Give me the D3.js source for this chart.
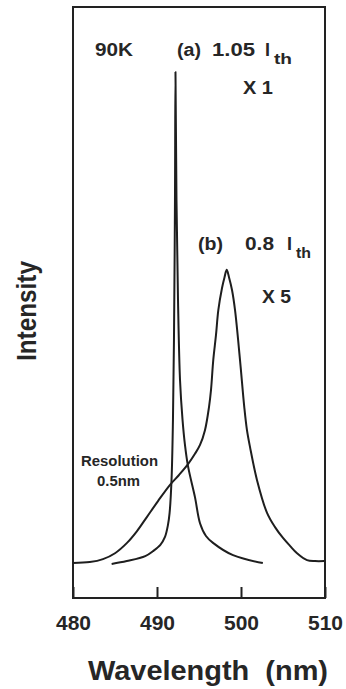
<!DOCTYPE html>
<html>
<head>
<meta charset="utf-8">
<script src="https://cdn.jsdelivr.net/npm/d3@7"></script>
<style>
  html, body { margin: 0; padding: 0; background: #fff; }
  svg { display: block; }
  text { font-family: "Liberation Sans", Arial, Helvetica, sans-serif; fill: #262626; }
</style>
</head>
<body>
<svg id="chart" width="346" height="689"></svg>
<script>
// ---- data (wavelength in nm, intensity in arbitrary units) ----
const wavelengthA = [484.6, 486.4, 488.6, 489.5, 490.4, 490.95, 491.3, 491.5, 491.73, 491.9, 492.02, 492.14, 492.2, 492.32, 492.5, 492.74, 493.04, 493.33, 493.69, 494.52, 495.12, 495.83, 496.67, 499.05, 502.6];
const intensityA  = [0.0, 0.6, 1.6, 2.6, 3.9, 5.5, 7.9, 10.4, 17.1, 29.3, 45.5, 74, 100, 74, 53.7, 37.4, 29.3, 24.2, 19.9, 13.6, 8.3, 5.7, 4.3, 1.8, 0.2];

const wavelengthB = [480, 482.0, 483.57, 485.0, 486.43, 487.62, 488.81, 490.12, 491.55, 492.62, 493.69, 494.52, 495.12, 495.71, 496.19, 496.43, 496.7, 497.02, 497.3, 497.74, 498.04, 498.3, 498.57, 498.93, 499.29, 499.88, 500.39, 500.71, 501.07, 501.9, 503.1, 504.05, 505.0, 505.83, 506.67, 507.86, 508.81, 509.9];
const intensityB  = [0.2, 0.4, 1.0, 2.2, 4.3, 6.7, 9.6, 12.8, 16.1, 18.1, 20.3, 22.4, 24.2, 27.2, 31.9, 35.4, 41.5, 46.5, 51.6, 56.1, 58.3, 59.8, 58.3, 55.7, 51.6, 41.5, 31.9, 27.2, 23.8, 17.1, 10.4, 7.5, 5.3, 3.7, 2.2, 0.8, 0.6, 0.6];

const xTicks = [480, 490, 500, 510];
const xDomain = [480, 510];
const yDomain = [-6.9, 113.2];

// ---- layout ----
const svg = d3.select("#chart");
const mLeft = 73, mRight = 325, mTop = 7, mBottom = 598;

const x = d3.scaleLinear().domain(xDomain).range([mLeft, mRight]);
const y = d3.scaleLinear().domain(yDomain).range([mBottom, mTop]);

// frame
svg.append("rect")
  .attr("x", mLeft).attr("y", mTop)
  .attr("width", mRight - mLeft).attr("height", mBottom - mTop)
  .attr("fill", "none").attr("stroke", "#222").attr("stroke-width", 2);

// x axis with inward ticks
const xAxis = d3.axisBottom(x)
  .tickValues(xTicks)
  .tickSizeInner(-11)
  .tickSizeOuter(0)
  .tickPadding(17)
  .tickFormat(d3.format("d"));

const gx = svg.append("g").attr("transform", `translate(0,${mBottom})`).call(xAxis);
gx.select(".domain").remove();
gx.selectAll(".tick line").attr("stroke", "#222").attr("stroke-width", 2);
gx.selectAll(".tick text")
  .attr("fill", "#262626")
  .style("font-family", "'Liberation Sans', Arial, sans-serif")
  .style("font-size", "21px").style("font-weight", "bold");

// curves
const line = d3.line()
  .x(d => x(d[0])).y(d => y(d[1]))
  .curve(d3.curveCatmullRom.alpha(0.5));

const dataA = wavelengthA.map((w, i) => [w, intensityA[i]]);
const dataB = wavelengthB.map((w, i) => [w, intensityB[i]]);

[dataA, dataB].forEach(d => {
  svg.append("path").datum(d)
    .attr("d", line)
    .attr("fill", "none")
    .attr("stroke", "#1e1e1e")
    .attr("stroke-width", 2)
    .attr("stroke-linejoin", "round");
});

// annotations
function label(txt, xp, yp, size, len) {
  const t = svg.append("text").attr("x", xp).attr("y", yp)
    .style("font-size", size + "px").style("font-weight", "bold").text(txt);
  if (len) t.attr("textLength", len).attr("lengthAdjust", "spacingAndGlyphs");
  return t;
}
label("90K", 95, 56, 18, 38);
label("(a)", 177, 56, 18, 24);
label("1.05", 212, 56, 18, 43);
label("I", 265, 56, 18);
label("th", 274, 64, 14, 18);
label("X 1", 243, 94, 18, 30);

label("(b)", 198, 250, 18, 25);
label("0.8", 245, 250, 18, 29);
label("I", 287, 250, 18);
label("th", 296, 258, 14, 15);
label("X 5", 262, 303, 18, 29);

label("Resolution", 81, 466, 15, 77);
label("0.5nm", 97, 486, 15, 43);

// axis titles
svg.append("text")
  .attr("transform", "translate(36,311) rotate(-90)")
  .attr("text-anchor", "middle")
  .attr("textLength", 100).attr("lengthAdjust", "spacingAndGlyphs")
  .style("font-size", "28px").style("font-weight", "bold")
  .text("Intensity");

svg.append("text")
  .attr("x", 208).attr("y", 680)
  .attr("text-anchor", "middle")
  .attr("textLength", 240).attr("lengthAdjust", "spacingAndGlyphs")
  .style("white-space", "pre")
  .style("font-size", "28px").style("font-weight", "bold")
  .text("Wavelength  (nm)");
</script>
</body>
</html>
